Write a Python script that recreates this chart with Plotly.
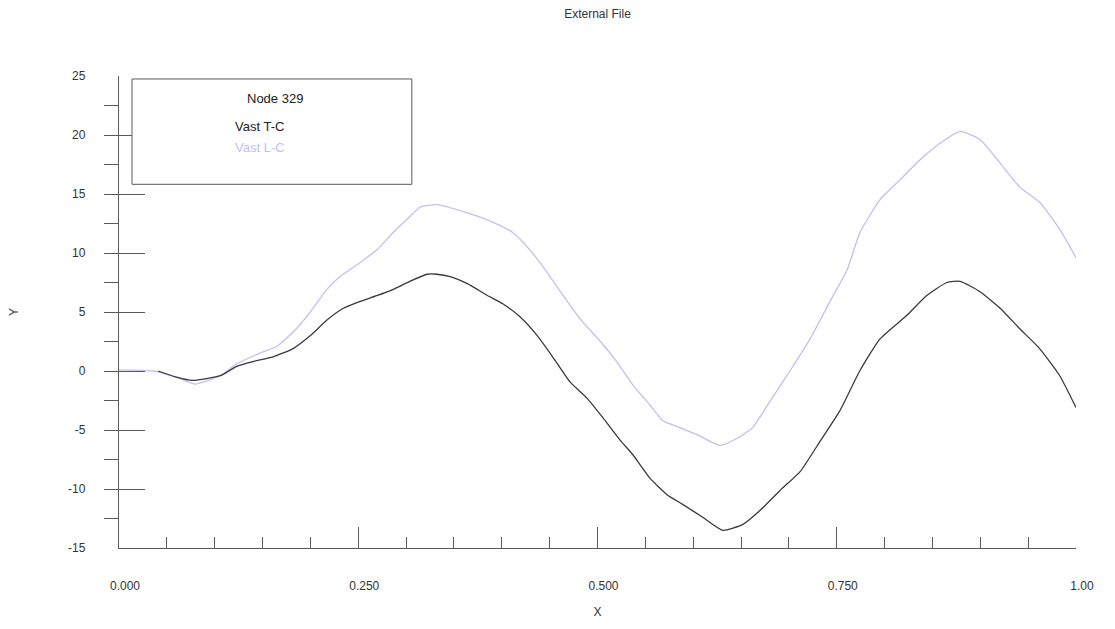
import plotly.graph_objects as go

# Vast T-C series (node 329)
x_tc = [0.041, 0.059, 0.077, 0.106, 0.123, 0.140, 0.161, 0.182, 0.200, 0.217,
        0.234, 0.252, 0.270, 0.286, 0.304, 0.322, 0.332, 0.346, 0.364, 0.385,
        0.401, 0.419, 0.437, 0.454, 0.471, 0.489, 0.506, 0.524, 0.537, 0.555,
        0.573, 0.589, 0.610, 0.631, 0.652, 0.670, 0.691, 0.712, 0.733, 0.753,
        0.774, 0.795, 0.823, 0.844, 0.865, 0.879, 0.900, 0.921, 0.941, 0.962,
        0.983, 1.000]
y_tc = [0.0, -0.5, -0.8, -0.4, 0.4, 0.8, 1.2, 1.9, 3.0, 4.3,
        5.3, 5.9, 6.4, 6.9, 7.6, 8.2, 8.2, 8.0, 7.4, 6.4,
        5.7, 4.6, 3.0, 1.1, -0.9, -2.3, -4.0, -5.9, -7.1, -9.1,
        -10.5, -11.3, -12.4, -13.5, -13.0, -11.8, -10.1, -8.5, -5.9, -3.4,
        0.0, 2.7, 4.7, 6.4, 7.5, 7.6, 6.7, 5.3, 3.6, 1.9,
        -0.4, -3.1]

# Vast L-C series (node 329)
x_lc = [0.000, 0.036, 0.059, 0.079, 0.106, 0.123, 0.147, 0.165, 0.182, 0.200,
        0.217, 0.231, 0.252, 0.270, 0.286, 0.304, 0.315, 0.332, 0.364, 0.391,
        0.412, 0.429, 0.447, 0.464, 0.482, 0.503, 0.520, 0.537, 0.555, 0.568,
        0.586, 0.604, 0.628, 0.646, 0.662, 0.680, 0.701, 0.722, 0.743, 0.761,
        0.774, 0.795, 0.816, 0.837, 0.858, 0.879, 0.900, 0.921, 0.941, 0.962,
        0.983, 1.000]
y_lc = [0.1, 0.0, -0.5, -1.1, -0.4, 0.6, 1.5, 2.1, 3.3, 5.0,
        6.9, 8.0, 9.2, 10.3, 11.7, 13.1, 13.9, 14.1, 13.4, 12.6,
        11.7, 10.3, 8.4, 6.4, 4.4, 2.5, 0.8, -1.2, -2.9, -4.2,
        -4.8, -5.4, -6.3, -5.7, -4.8, -2.6, 0.0, 2.7, 5.9, 8.6,
        11.7, 14.5, 16.2, 17.9, 19.3, 20.3, 19.6, 17.6, 15.6, 14.3,
        12.0, 9.6]

x_tickvals = [0.0, 0.25, 0.5, 0.75, 1.0]
x_ticktext = ["0.000", "0.250", "0.500", "0.750", "1.00"]
y_tickvals = [-15, -10, -5, 0, 5, 10, 15, 20, 25]
y_ticktext = ["-15", "-10", "-5", "0", "5", "10", "15", "20", "25"]

TC_COLOR = "#3a3a3a"
LC_COLOR = "#c0c0f0"
AXIS_COLOR = "#5a5a5a"
TEXT_COLOR = "#333333"
FONT = "Liberation Sans, Arial, sans-serif"

fig = go.Figure()
fig.add_trace(go.Scatter(x=x_lc, y=y_lc, mode="lines", name="Vast L-C",
                         line=dict(color=LC_COLOR, width=1.3, shape="spline", smoothing=0.5)))
fig.add_trace(go.Scatter(x=x_tc, y=y_tc, mode="lines", name="Vast T-C",
                         line=dict(color=TC_COLOR, width=1.3, shape="spline", smoothing=0.5)))

# boxed key in the upper-left corner
fig.add_shape(type="rect", xref="paper", yref="paper",
              x0=0.0136, x1=0.306, y0=0.7705, y1=0.9937,
              line=dict(color=AXIS_COLOR, width=1), fillcolor="white", layer="above")
fig.add_annotation(text="Node 329", xref="paper", yref="paper", x=0.163, y=0.9516,
                   showarrow=False, xanchor="center", yanchor="middle",
                   font=dict(size=13, color="#222222", family=FONT))
fig.add_annotation(text="Vast T-C", xref="paper", yref="paper", x=0.119, y=0.8926,
                   showarrow=False, xanchor="left", yanchor="middle",
                   font=dict(size=13, color="#222222", family=FONT))
fig.add_annotation(text="Vast L-C", xref="paper", yref="paper", x=0.119, y=0.8484,
                   showarrow=False, xanchor="left", yanchor="middle",
                   font=dict(size=13, color=LC_COLOR, family=FONT))

fig.update_layout(
    width=1115, height=629,
    margin=dict(l=119, r=39, t=76, b=78),
    paper_bgcolor="white", plot_bgcolor="white",
    showlegend=False,
    font=dict(family=FONT, size=12, color=TEXT_COLOR),
    title=dict(text="External File", x=0.5, xref="paper", y=1 - 14 / 629,
               xanchor="center", yanchor="middle",
               font=dict(size=12, color=TEXT_COLOR)),
)

fig.update_xaxes(
    range=[0, 1], showgrid=False, zeroline=False,
    showline=True, linecolor=AXIS_COLOR, linewidth=1.3,
    tickvals=x_tickvals, ticktext=x_ticktext,
    ticks="inside", ticklen=21, tickcolor=AXIS_COLOR, tickwidth=1.3,
    minor=dict(dtick=0.05, tick0=0, ticks="inside", ticklen=11,
               tickcolor=AXIS_COLOR, tickwidth=1.3),
    ticklabelstandoff=26, ticklabelshift=6,
    tickfont=dict(size=12, color=TEXT_COLOR),
    title=dict(text="X", standoff=16, font=dict(size=12, color=TEXT_COLOR)),
)
fig.update_yaxes(
    range=[-15, 25], showgrid=False, zeroline=False,
    showline=True, linecolor=AXIS_COLOR, linewidth=1.3,
    tickvals=y_tickvals, ticktext=y_ticktext,
    ticks="inside", ticklen=26, tickcolor=AXIS_COLOR, tickwidth=1.3,
    minor=dict(dtick=2.5, tick0=0, ticks="outside", ticklen=14,
               tickcolor=AXIS_COLOR, tickwidth=1.3),
    ticklabelstandoff=30,
    tickfont=dict(size=12, color=TEXT_COLOR),
    title=dict(text="Y", standoff=46, font=dict(size=12, color=TEXT_COLOR)),
)

fig.write_html("out.html")
